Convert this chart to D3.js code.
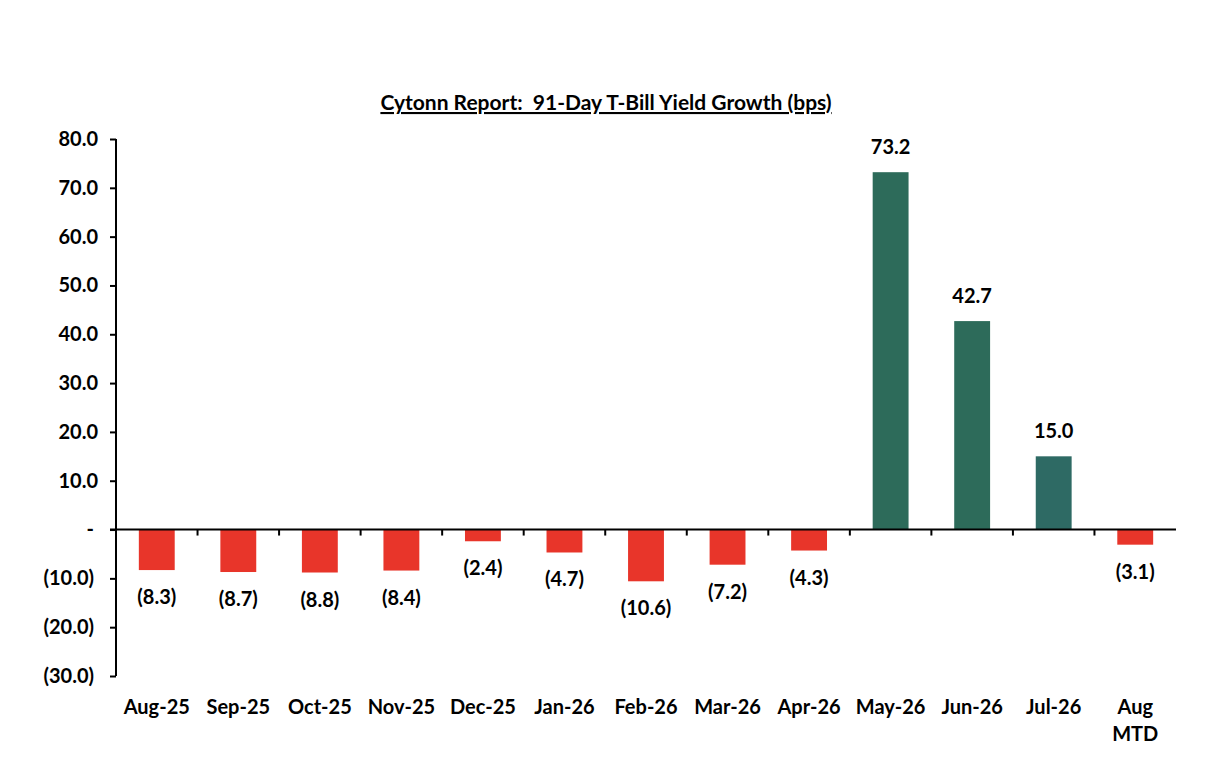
<!DOCTYPE html>
<html lang="en">
<head>
    <meta charset="UTF-8">
    <title>91-Day T-Bill Yield Growth</title>
    <script src="https://cdn.jsdelivr.net/npm/d3@7"></script>
    <style>
        body { margin: 0; background: #fff; }
        text { font-family: Lato, "Open Sans", sans-serif; font-weight: bold; fill: #000; }
    </style>
</head>
<body>
<svg width="1216" height="762" id="chart"></svg>
<script>
    // data
    const months = ["Aug-25", "Sep-25", "Oct-25", "Nov-25", "Dec-25", "Jan-26", "Feb-26",
        "Mar-26", "Apr-26", "May-26", "Jun-26", "Jul-26", "Aug MTD"];
    const growth = [-8.3, -8.7, -8.8, -8.4, -2.4, -4.7, -10.6, -7.2, -4.3, 73.2, 42.7, 15.0, -3.1];
    const barColors = ["#E8352A", "#E8352A", "#E8352A", "#E8352A", "#E8352A", "#E8352A", "#E8352A",
        "#E8352A", "#E8352A", "#2D6B5A", "#2D6B5A", "#2E6A64", "#E8352A"];
    const yTicks = [-30, -20, -10, 0, 10, 20, 30, 40, 50, 60, 70, 80];

    const svg = d3.select("#chart");
    const plotL = 116, plotR = 1176, plotT = 139, plotB = 676;

    const x = d3.scaleBand().domain(months).range([plotL, plotR]).padding(0);
    const y = d3.scaleLinear().domain([-30, 80]).range([plotB, plotT]);
    const barW = x.bandwidth() * 0.44;

    // 数字格式：负数用括号，零显示为 "-"
    const fmt = v => v === 0 ? "-" : v < 0 ? "(" + d3.format(".1f")(-v) + ")" : d3.format(".1f")(v);

    // title
    svg.append("text")
        .attr("x", 606).attr("y", 110)
        .attr("text-anchor", "middle")
        .attr("xml:space", "preserve")
        .style("white-space", "pre")
        .style("font-size", "21px")
        .style("text-decoration", "underline")
        .text("Cytonn Report:  91-Day T-Bill Yield Growth (bps)");

    // y axis
    const yAxis = svg.append("g")
        .attr("transform", `translate(${plotL},0)`)
        .call(d3.axisLeft(y).tickValues(yTicks).tickFormat(fmt).tickSize(6).tickPadding(12));
    yAxis.select(".domain").attr("stroke", "#000").attr("stroke-width", 2).attr("d", `M0,${plotT}V${plotB}`);
    yAxis.selectAll(".tick line").attr("stroke", "#000").attr("stroke-width", 2);
    yAxis.selectAll(".tick text")
        .style("font-size", "20px").style("font-family", null)
        .attr("dx", d => d > 0 ? 0 : -4);

    // bars
    svg.append("g").selectAll("rect")
        .data(growth)
        .join("rect")
        .attr("x", (d, i) => x(months[i]) + (x.bandwidth() - barW) / 2)
        .attr("y", d => y(Math.max(0, d)))
        .attr("width", barW)
        .attr("height", d => Math.abs(y(d) - y(0)))
        .attr("fill", (d, i) => barColors[i]);

    // zero line + ticks between categories
    svg.append("line")
        .attr("x1", plotL - 6).attr("x2", plotR)
        .attr("y1", y(0)).attr("y2", y(0))
        .attr("stroke", "#000").attr("stroke-width", 2);
    svg.append("g").selectAll("line")
        .data(months.slice(1))
        .join("line")
        .attr("x1", d => x(d)).attr("x2", d => x(d))
        .attr("y1", y(0)).attr("y2", y(0) + 6)
        .attr("stroke", "#000").attr("stroke-width", 2);

    // category labels
    svg.append("g").selectAll("text")
        .data(months)
        .join("text")
        .attr("x", d => x(d) + x.bandwidth() / 2)
        .attr("y", 714)
        .attr("text-anchor", "middle")
        .style("font-size", "20px")
        .each(function (d) {
            const parts = d.split(" ");
            d3.select(this).selectAll("tspan")
                .data(parts)
                .join("tspan")
                .attr("x", x(d) + x.bandwidth() / 2)
                .attr("dy", (p, j) => j === 0 ? 0 : 27)
                .text(p => p);
        });

    // value labels
    svg.append("g").selectAll("text")
        .data(growth)
        .join("text")
        .attr("x", (d, i) => x(months[i]) + x.bandwidth() / 2)
        .attr("y", d => d >= 0 ? y(d) - 18 : y(d) + 34)
        .attr("text-anchor", "middle")
        .style("font-size", "20px")
        .text(fmt);
</script>
</body>
</html>
